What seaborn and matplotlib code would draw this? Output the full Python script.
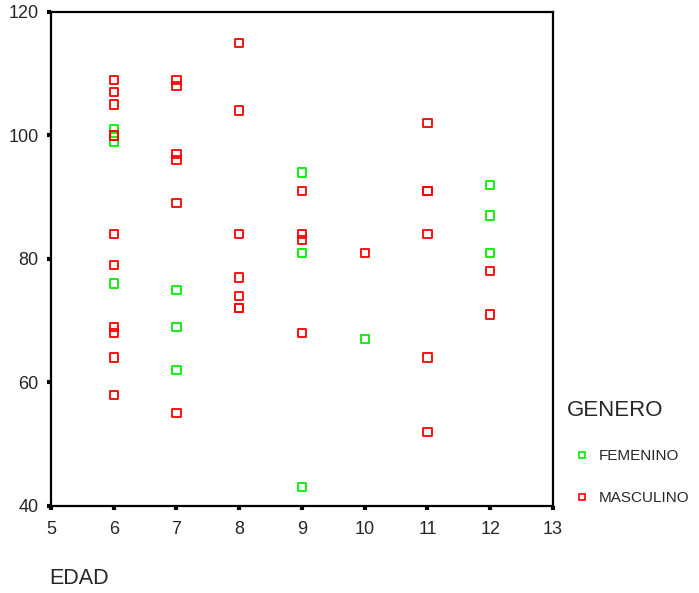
import matplotlib
matplotlib.use("Agg")
import matplotlib.pyplot as plt
from matplotlib.lines import Line2D
import seaborn as sns
import pandas as pd

# EDAD / valor por genero
fem_edad = [6, 6, 6, 7, 7, 7, 9, 9, 9, 10, 12, 12, 12]
fem_valor = [101, 99, 76, 75, 69, 62, 94, 81, 43, 67, 92, 87, 81]

mas_edad = [6, 6, 6, 6, 6, 6, 6, 6, 6, 6, 6,
            7, 7, 7, 7, 7, 7,
            8, 8, 8, 8, 8, 8, 8,
            9, 9, 9, 9,
            10,
            11, 11, 11, 11, 11, 11,
            12, 12]
mas_valor = [109, 107, 105, 100, 100, 84, 79, 69, 68, 64, 58,
             109, 108, 97, 96, 89, 55,
             115, 104, 84, 77, 74, 72, 72,
             91, 84, 83, 68,
             81,
             102, 91, 91, 84, 64, 52,
             78, 71]

x_ticks = [5, 6, 7, 8, 9, 10, 11, 12, 13]
y_ticks = [40, 60, 80, 100, 120]

df = pd.DataFrame({
    'EDAD': fem_edad + mas_edad,
    'VALOR': fem_valor + mas_valor,
    'GENERO': ['FEMENINO'] * len(fem_edad) + ['MASCULINO'] * len(mas_edad),
})

sns.set_style("white")
plt.rcParams['font.family'] = ['Liberation Sans', 'DejaVu Sans']

fig = plt.figure(figsize=(6.99, 5.93), dpi=100)
ax = fig.add_axes([0.073, 0.147, 0.718, 0.833])

palette = {'FEMENINO': '#00ee00', 'MASCULINO': '#ff0000'}
sns.scatterplot(data=df, x='EDAD', y='VALOR', hue='GENERO', palette=palette,
                marker='s', s=36, linewidth=1.3, legend=False, ax=ax)

# hollow squares: edge takes the hue colour
for coll in ax.collections:
    fc = coll.get_facecolors()
    coll.set_edgecolors(fc)
    coll.set_facecolor('none')

ax.set_xlim(5, 13)
ax.set_ylim(40, 120)
ax.set_xticks(x_ticks)
ax.set_yticks(y_ticks)
ax.tick_params(axis='both', direction='out', length=3, width=3, color='black',
               labelsize=13, bottom=True, left=True)
ax.tick_params(axis='x', pad=8)
ax.tick_params(axis='y', pad=6)
for sp in ax.spines.values():
    sp.set_color('black')
    sp.set_linewidth(1.6)
ax.set_xlabel('')
ax.set_ylabel('')

fig.text(0.071, 1 - 579 / 593, 'EDAD', fontsize=15.5, va='center', ha='left')

handles = [Line2D([], [], linestyle='none', marker='s', markersize=5,
                  markerfacecolor='none', markeredgecolor=palette[g],
                  markeredgewidth=1.2, label=g)
           for g in ['FEMENINO', 'MASCULINO']]
leg = ax.legend(handles=handles, loc='upper left', bbox_to_anchor=(1.028, 0.215),
                frameon=False, title='GENERO', title_fontsize=16, fontsize=11,
                labelspacing=1.85, handlelength=2.0, handletextpad=0.05,
                borderpad=0, borderaxespad=0)
leg._legend_box.align = 'left'

fig.savefig('out.png', dpi=100)
